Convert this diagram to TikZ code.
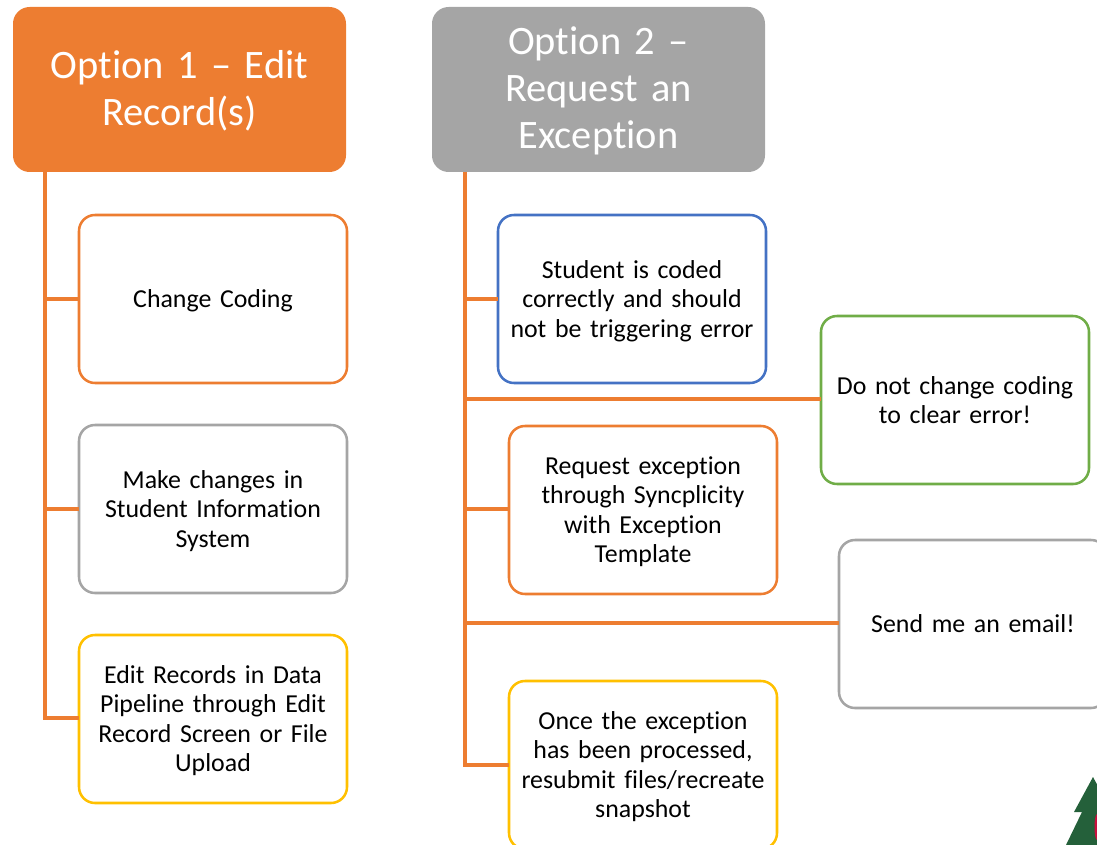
\documentclass[tikz,border=0pt]{standalone}
\usepackage{fontspec}
\setmainfont{Carlito}[Ligatures=NoCommon,WordSpace=0.9]
\definecolor{cOrange}{HTML}{ED7D31}
\definecolor{cGray}{HTML}{A5A5A5}
\definecolor{cYellow}{HTML}{FFC000}
\definecolor{cBlue}{HTML}{4472C4}
\definecolor{cGreen}{HTML}{70AD47}
\definecolor{cTree}{HTML}{24603A}
\definecolor{cRed}{HTML}{C8103E}
\tikzset{
  titlebox/.style={rectangle,rounded corners=12.5pt,draw=none,text=white,anchor=north west,
    minimum width=249.75pt,minimum height=123.75pt,inner sep=0pt,outer sep=0pt,align=center,
    text width=240pt,font=\fontsize{30.3}{35.25}\selectfont,
    execute at begin node={\rule{0pt}{\dimexpr0.68em+3pt\relax}}},
  sidebox/.style={rectangle,rounded corners=12pt,draw=#1,line width=1.9pt,fill=white,text=black,anchor=north west,
    minimum width=201pt,minimum height=126pt,inner sep=0pt,outer sep=0pt,align=center,
    text width=195pt,font=\fontsize{19.4}{22.1}\selectfont},
  itembox/.style={sidebox=#1,
    execute at begin node={\rule{0pt}{\dimexpr0.68em+3pt\relax}}},
  link/.style={draw=cOrange,line width=2.35pt,line cap=butt}
}
\begin{document}
\begin{tikzpicture}[x=0.75pt,y=-0.75pt]
\useasboundingbox (0,0) rectangle (1097,845);
\clip (0,0) rectangle (1097,845);
% emblem at lower right corner
\fill[cTree] (1093,777) -- (1074,812) -- (1082,812) -- (1066,845) -- (1120,845) -- (1112,812) -- cycle;
\fill[cRed] (1097,840) arc (90:270:2.5 and 13) -- cycle;
% headers
\node[titlebox,fill=cOrange] (opta) at (13,7) {Option 1 – Edit\\Record(s)};
\node[titlebox,fill=cGray] (optb) at (432,7) {Option 2 –\\Request an\\Exception};
% spines and branches
\coordinate (sa) at (45,172);
\coordinate (sb) at (465,172);
\coordinate (sa1) at (45,299);
\coordinate (sa2) at (45,509);
\coordinate (sa3) at (45,718);
\coordinate (sb1) at (465,299);
\coordinate (sb2) at (465,399);
\coordinate (sb3) at (465,509);
\coordinate (sb4) at (465,623);
\coordinate (sb5) at (465,765);
% left column
\node[itembox=cOrange] (a1) at (79,215) {Change Coding};
\node[itembox=cGray] (a2) at (79,425) {Make changes in\\Student Information\\System};
\node[itembox=cYellow] (a3) at (79,635) {Edit Records in Data\\Pipeline through Edit\\Record Screen or File\\Upload};
% right column
\node[itembox=cBlue] (b1) at (498,215) {Student is coded\\correctly and should\\not be triggering error};
\node[sidebox=cGreen] (b2) at (821,316) {Do not change coding\\to clear error!};
\node[itembox=cOrange] (b3) at (509,426) {Request exception\\through Syncplicity\\with Exception\\Template};
\node[sidebox=cGray] (b4) at (839,540) {Send me an email!};
\node[itembox=cYellow] (b5) at (509,681) {Once the exception\\has been processed,\\resubmit files/recreate\\snapshot};
% connectors
\draw[link] (sa) -- (sa3) -- (sa3 -| a3.west);
\draw[link] (sb) -- (sb5) -- (sb5 -| b5.west);
\draw[link] (sa1) -- (sa1 -| a1.west);
\draw[link] (sa2) -- (sa2 -| a2.west);
\draw[link] (sb1) -- (sb1 -| b1.west);
\draw[link] (sb2) -- (sb2 -| b2.west);
\draw[link] (sb3) -- (sb3 -| b3.west);
\draw[link] (sb4) -- (sb4 -| b4.west);
\end{tikzpicture}
\end{document}
